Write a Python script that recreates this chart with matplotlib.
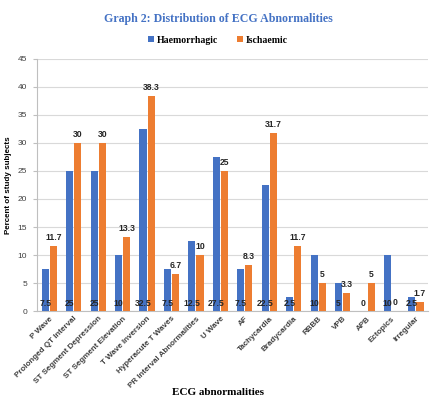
import numpy as np
import matplotlib
matplotlib.use("Agg")
import matplotlib.pyplot as plt

categories = ["P Wave", "Prolonged QT Interval", "ST Segment Depression",
              "ST Segment Elevation", "T Wave Inversion", "Hyperacute T Waves",
              "PR Interval Abnormalities", "U Wave", "AF", "Tachycardia",
              "Bradycardia", "RBBB", "VPB", "APB", "Ectopics", "Irregular"]
haemorrhagic = [7.5, 25, 25, 10, 32.5, 7.5, 12.5, 27.5, 7.5, 22.5, 2.5, 10, 5, 0, 10, 2.5]
ischaemic = [11.7, 30, 30, 13.3, 38.3, 6.7, 10, 25, 8.3, 31.7, 11.7, 5, 3.3, 5, 0, 1.7]

def fmt(v):
    return "%g" % v

def main():
    fig = plt.figure(figsize=(4.36, 4.03), dpi=100)
    ax = fig.add_axes([0.085, 0.228, 0.897, 0.626])

    x = np.arange(len(categories))
    w = 0.29
    b1 = ax.bar(x - w / 2 - 0.02, haemorrhagic, w, color="#4472C4", label="Haemorrhagic", zorder=3)
    b2 = ax.bar(x + w / 2 + 0.02, ischaemic, w, color="#ED7D31", label="Ischaemic", zorder=3)

    # haemorrhagic labels sit at the base, ischaemic above the bar
    for rect, v in zip(b1, haemorrhagic):
        ax.text(rect.get_x() + rect.get_width() / 2, 0.5, fmt(v), ha="center", va="bottom",
                fontsize=6.2, fontweight="bold", color="#262626", family="Liberation Sans", zorder=4)
    for rect, v in zip(b2, ischaemic):
        ax.text(rect.get_x() + rect.get_width() / 2, v + 0.7, fmt(v), ha="center", va="bottom",
                fontsize=6.2, fontweight="bold", color="#262626", family="Liberation Sans", zorder=4)

    ax.set_xlim(-0.5, len(categories) - 0.5)
    ax.set_ylim(0, 45)
    ax.set_yticks(range(0, 46, 5))
    ax.yaxis.grid(True, color="#D9D9D9", linewidth=0.8, zorder=0)
    ax.set_axisbelow(True)

    ax.set_xticks(x)
    ax.set_xticklabels(categories, rotation=45, ha="right", rotation_mode="anchor",
                       fontsize=5.8, fontweight="bold", color="#404040", family="Liberation Sans")
    for lab in ax.get_yticklabels():
        lab.set_fontsize(6)
        lab.set_color("#404040")
        lab.set_family("Liberation Sans")
    ax.tick_params(axis="x", length=0, pad=3)
    ax.tick_params(axis="y", length=3, color="#BFBFBF", pad=4)

    for s in ["top", "right"]:
        ax.spines[s].set_visible(False)
    ax.spines["left"].set_color("#BFBFBF")
    ax.spines["bottom"].set_color("#BFBFBF")

    ax.set_ylabel("Percent of study subjects", fontsize=5.8, fontweight="bold",
                  family="Liberation Sans", labelpad=4)
    fig.text(0.5, 0.015, "ECG abnormalities", ha="center", va="bottom", fontsize=8,
             fontweight="bold", family="Liberation Serif")
    fig.text(0.5, 0.952, "Graph 2: Distribution of ECG Abnormalities", ha="center", va="center",
             fontsize=8.6, fontweight="bold", color="#4472C4", family="Liberation Serif")
    fig.legend(loc="center", bbox_to_anchor=(0.5, 0.9), ncol=2, frameon=False,
               prop={"family": "Liberation Serif", "weight": "bold", "size": 7},
               handlelength=0.6, handleheight=0.6, handletextpad=0.3, columnspacing=2.0)

    fig.savefig("out.png", dpi=100)

if __name__ == "__main__":
    main()
